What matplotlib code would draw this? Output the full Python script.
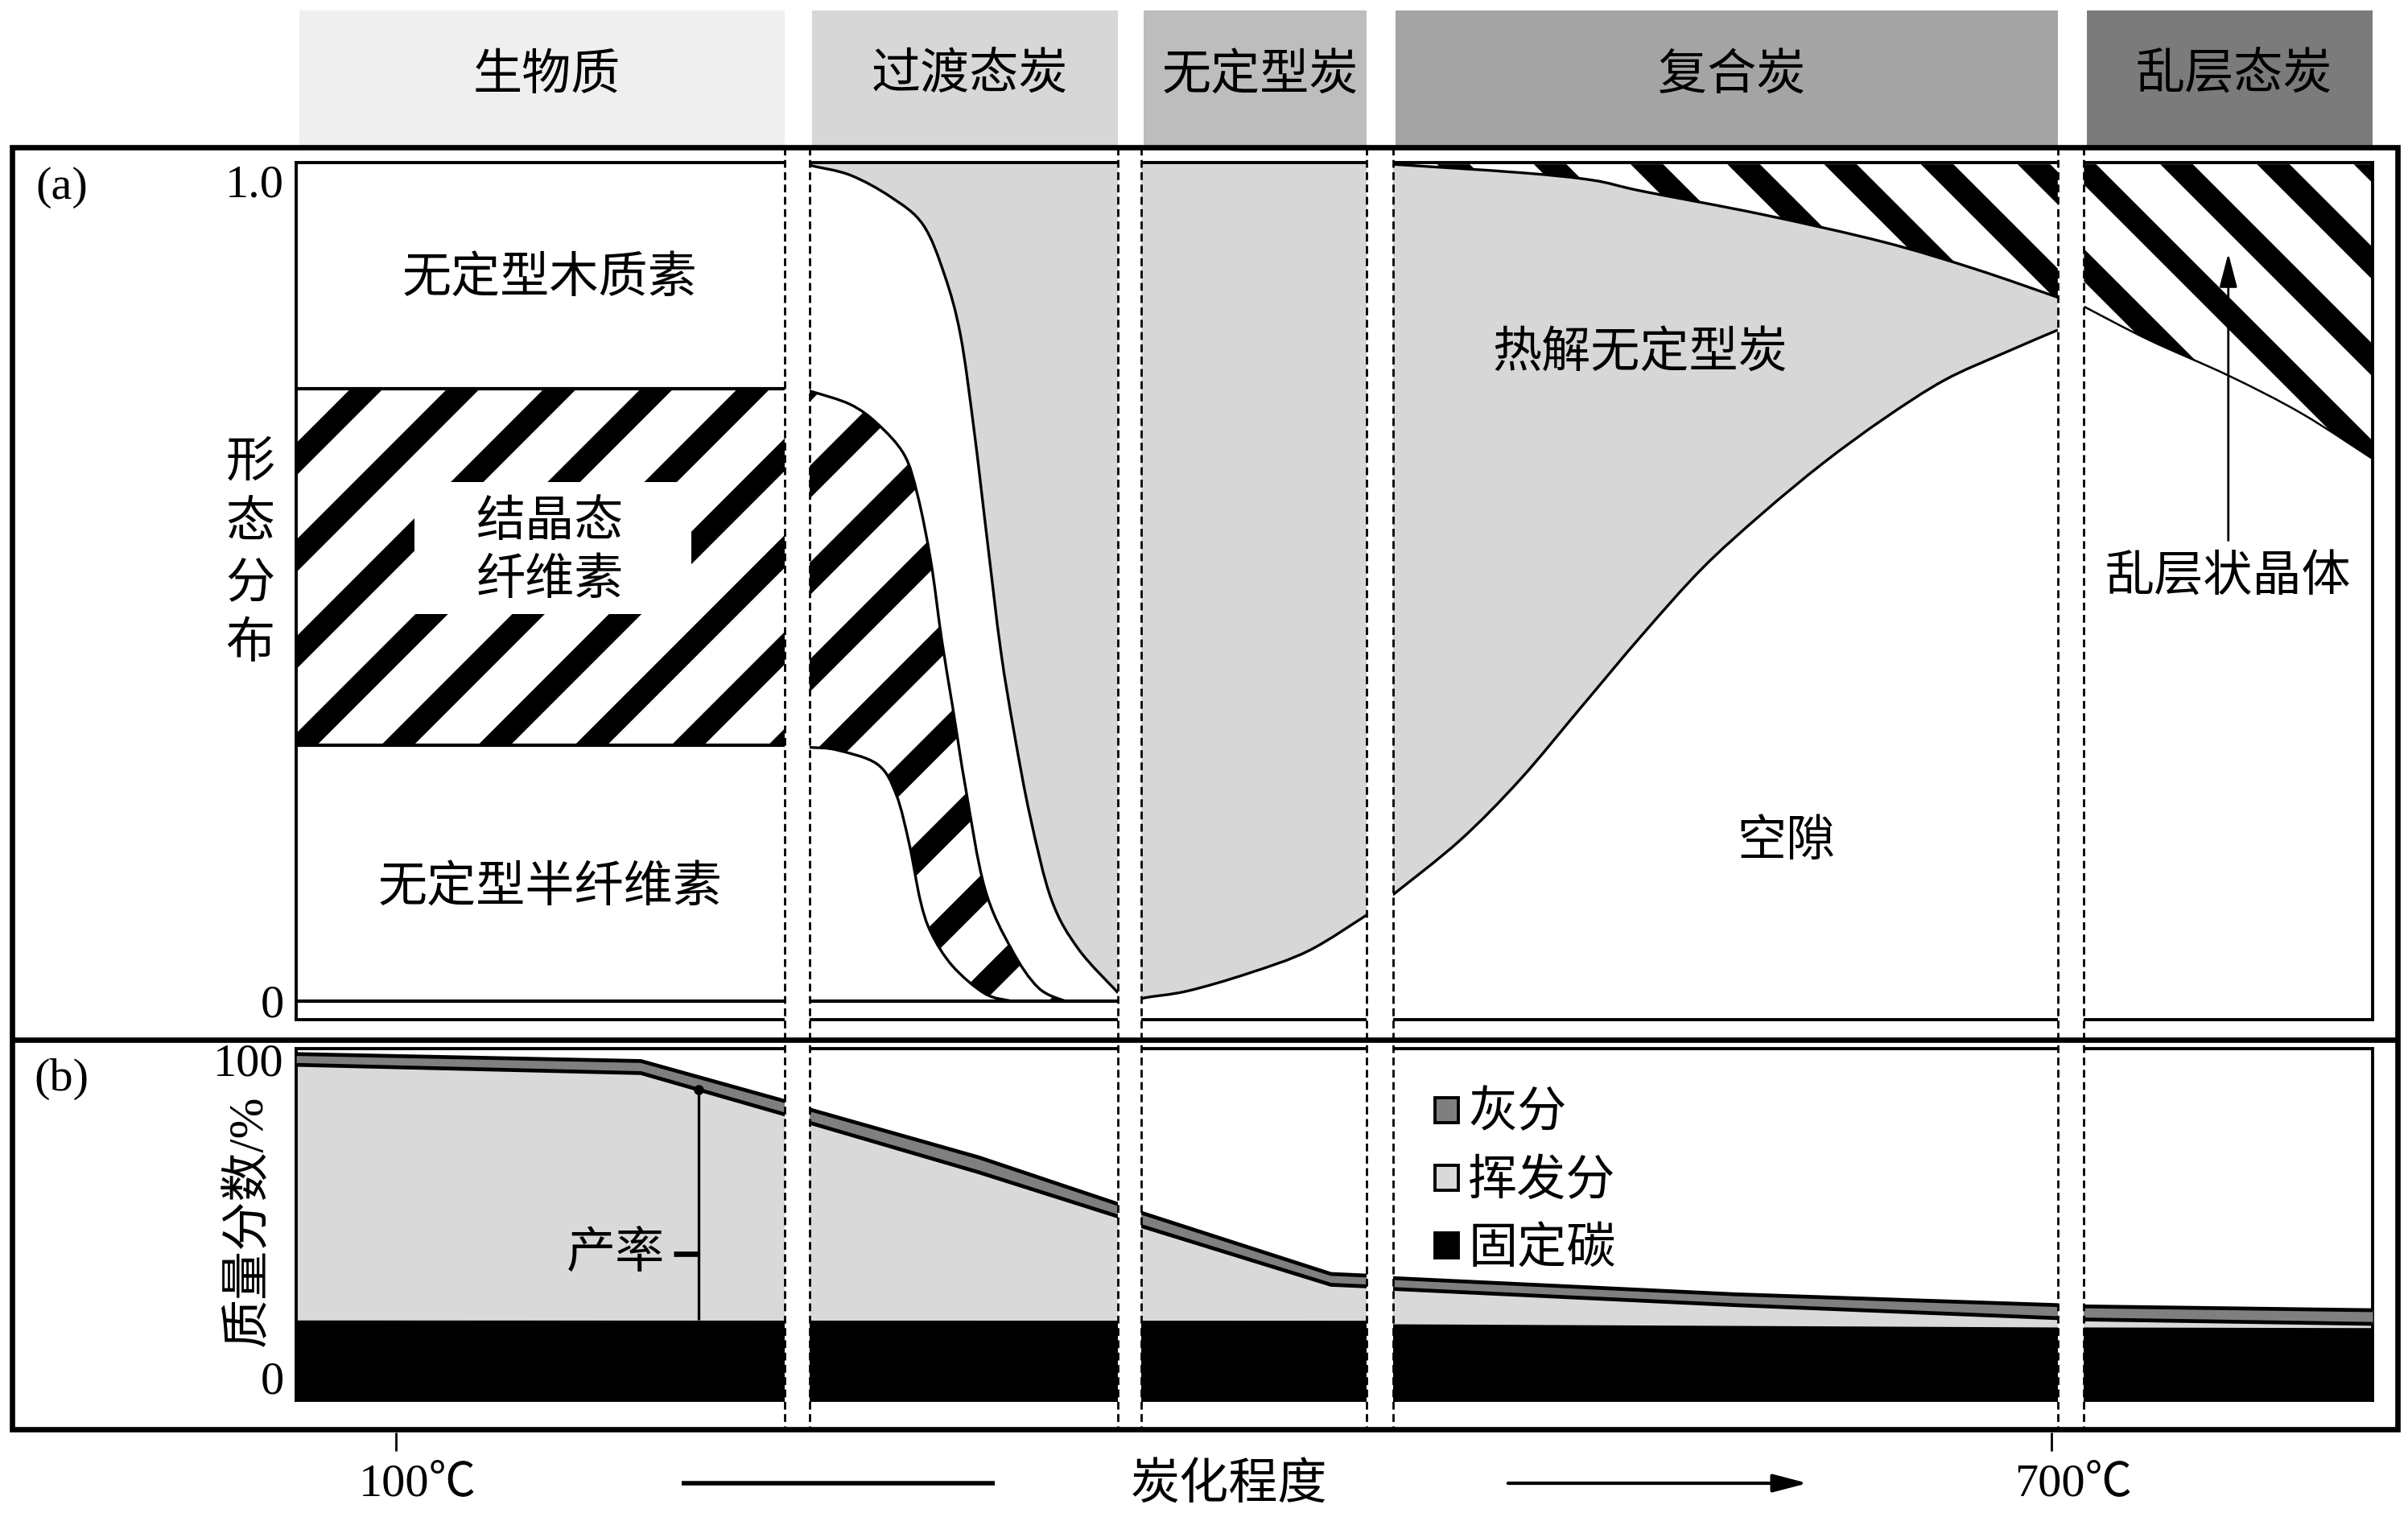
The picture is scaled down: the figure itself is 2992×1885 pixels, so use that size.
import numpy as np
import matplotlib
matplotlib.use('Agg')
import matplotlib.pyplot as plt
from matplotlib.patches import Rectangle, PathPatch
from matplotlib.path import Path
from matplotlib.collections import LineCollection
from matplotlib.transforms import IdentityTransform

CJK = ['Noto Sans CJK SC', 'DejaVu Sans']
SERIF = ['Liberation Serif', 'Noto Sans CJK SC', 'DejaVu Sans']
plt.rcParams['font.family'] = CJK

# ------------------------------------------------------------------ data
stage_names = ['生物质', '过渡态炭', '无定型炭', '复合炭', '乱层态炭']
stage_colors = ['#efefef', '#d7d7d7', '#bdbdbd', '#a4a4a4', '#7b7b7b']
stage_start = [63.8, 249.7, 369.9, 461.2, 711.7]      # carbonization axis (℃)
stage_end = [240.8, 361.6, 451.8, 702.2, 816.3]

tick_temps = [100, 700]
tick_labels = ['100℃', '700℃']

# (a) morphology distribution (fraction 0..1)
bio_hemi_top = 0.306          # amorphous hemicellulose upper bound
bio_cell_top = 0.732          # crystalline cellulose upper bound

tr_pyro_T = [249.7, 251.0, 264.6, 279.2, 290.9, 298.7, 304.5, 309.4, 314.2,
             319.1, 324.0, 329.8, 337.5, 347.3, 361.6]
tr_pyro_f = [1.0, 0.998, 0.987, 0.961, 0.928, 0.868, 0.796, 0.683, 0.551,
             0.419, 0.320, 0.220, 0.121, 0.062, 0.010]
tr_cell_T = [249.7, 251.0, 264.6, 274.4, 284.1, 289.0, 293.8, 297.7, 301.6,
             306.4, 313.3, 323.0, 332.7, 342.4]
tr_cell_f = [0.728, 0.728, 0.713, 0.690, 0.653, 0.604, 0.525, 0.432, 0.353,
             0.254, 0.135, 0.062, 0.016, 0.0]
tr_hemi_T = [249.7, 251.0, 259.8, 274.4, 281.2, 286.0, 289.9, 293.8, 301.6,
             313.3, 323.0]
tr_hemi_f = [0.303, 0.303, 0.300, 0.283, 0.247, 0.187, 0.121, 0.082, 0.042,
             0.009, 0.0]

am_T = [369.9, 371.4, 386.7, 408.7, 430.6, 451.8]
am_f = [0.0, 0.004, 0.012, 0.033, 0.060, 0.103]

comp_low_T = [461.2, 485.5, 507.4, 529.4, 551.4, 573.3, 595.2, 617.2, 639.2,
              661.1, 683.1, 702.2]
comp_low_f = [0.127, 0.192, 0.265, 0.351, 0.437, 0.517, 0.583, 0.643, 0.696,
              0.742, 0.775, 0.802]
comp_up_T = [461.2, 507.4, 533.6, 551.4, 595.2, 639.2, 672.1, 702.2]
comp_up_f = [1.0, 0.990, 0.981, 0.968, 0.940, 0.907, 0.875, 0.841]

turb_T = [711.7, 735.3, 764.4, 790.7, 816.3]
turb_f = [0.830, 0.790, 0.747, 0.702, 0.648]

# (b) mass fraction (%)
ash_T = [63.8, 188.7, 240.8, 249.7, 311.1, 361.6, 369.9, 438.8, 451.8,
         461.2, 585.3, 702.2, 711.7, 816.3]
ash_top = [101.7, 99.5, 86.9, 84.3, 69.2, 54.5, 51.8, 32.5, 32.0,
           31.2, 26.1, 22.7, 22.3, 21.1]
ash_bottom = [98.3, 95.7, 82.7, 80.1, 64.5, 50.6, 47.6, 29.1, 28.6,
              27.8, 22.7, 18.6, 18.2, 16.8]
fc_T = [63.8, 451.8, 461.2, 702.2, 711.7, 816.3]
fc_top = [18.0, 17.9, 16.8, 15.8, 15.8, 15.6]

yield_T = 209.6
yield_label_pct = 38.8

legend_labels = ['灰分', '挥发分', '固定碳']
legend_colors = ['#7f7f7f', '#d9d9d9', '#000000']

# ------------------------------------------------------------------ layout
DPI = 200
fig = plt.figure(figsize=(2992 / DPI, 1885 / DPI), dpi=DPI, facecolor='white')
RW, RH = 1568.0, 988.0                    # layout grid
PT = 72.0 / DPI * (2992 / 1568)           # points per layout unit
FS = 22
FSN = 21

def fx(px):
    return px / RW

def fy(row):
    return 1 - row / RH

X100, PXC = 258.0, (1336.0 - 258.0) / 600.0

def px_of(t):
    return X100 + (t - 100) * PXC

def t_of(px):
    return 100 + (px - X100) / PXC

L, R = px_of(stage_start[0]), px_of(stage_end[-1])

def frac_a(row):
    return (652 - row) / 545.0

def pct_b(row):
    return 100 - (row - 690) / 2.07

ax_a = fig.add_axes([fx(L), fy(664), fx(R) - fx(L), fy(106) - fy(664)])
ax_a.set_xlim(stage_start[0], stage_end[-1])
ax_a.set_ylim(frac_a(664), frac_a(106))

ax_b = fig.add_axes([fx(L), fy(912), fx(R) - fx(L), fy(683) - fy(912)])
ax_b.set_xlim(stage_start[0], stage_end[-1])
ax_b.set_ylim(pct_b(912), pct_b(683))

for ax in (ax_a, ax_b):
    ax.set_xticks([])
    for s in ax.spines.values():
        s.set_linewidth(1.4)
    ax.tick_params(axis='y', length=0, pad=8 * PT)

ax_a.set_yticks([0, 1.0])
ax_a.set_yticklabels(['0', '1.0'], fontsize=FSN, family=SERIF)
ax_a.get_yticklabels()[1].set_va('top')
ax_b.set_yticks([0, 100])
ax_b.set_yticklabels(['0', '100'], fontsize=FSN, family=SERIF)


# ---------- smooth curve helpers (Bezier through the read points)
def bez(xs, ys):
    P = np.column_stack([xs, ys]).astype(float)
    n = len(P)
    verts = [P[0]]
    codes = [Path.MOVETO]
    for i in range(n - 1):
        p0 = P[i - 1] if i > 0 else P[i]
        p1, p2 = P[i], P[i + 1]
        p3 = P[i + 2] if i + 2 < n else P[i + 1]
        verts += [p1 + (p2 - p0) / 6.0, p2 - (p3 - p1) / 6.0, p2]
        codes += [Path.CURVE4] * 3
    return verts, codes


def build_path(parts, close=True):
    verts, codes = [], []
    for k, (xs, ys, smooth) in enumerate(parts):
        if smooth:
            v, c = bez(xs, ys)
        else:
            v = [np.array([x, y], float) for x, y in zip(xs, ys)]
            c = [Path.MOVETO] + [Path.LINETO] * (len(v) - 1)
        if k > 0:
            c[0] = Path.LINETO
        verts += v
        codes += c
    if close:
        verts.append(verts[0])
        codes.append(Path.CLOSEPOLY)
    return Path(np.array(verts), codes)


def curve(ax, xs, ys, lw=1.2):
    ax.add_patch(PathPatch(build_path([(xs, ys, True)], close=False),
                           fill=False, ec='k', lw=lw, zorder=5))


def region(ax, parts, color, z=1):
    p = PathPatch(build_path(parts), fc=color, ec='none', lw=0, zorder=z)
    ax.add_patch(p)
    return p


def striped(ax, parts, direction, z=2):
    poly = region(ax, parts, 'white', z)
    disp = ax.transData.transform(poly.get_path().vertices)
    x0, y0 = disp.min(0) - 60
    x1, y1 = disp.max(0) + 60
    period = 63 * 2992 / 1568
    segs = []
    if direction == '/':
        for c in np.arange(y0 - x1, y1 - x0 + period, period):
            segs.append([(x0, x0 + c), (x1, x1 + c)])
    else:
        for c in np.arange(x0 + y0, x1 + y1 + period, period):
            segs.append([(x0, c - x0), (x1, c - x1)])
    lc = LineCollection(segs, colors='black', linewidths=15.0 * PT,
                        transform=IdentityTransform(), zorder=z + 0.1)
    lc.set_clip_path(poly)
    ax.add_collection(lc, autolim=False)

GRAY = '#d7d7d7'

# stage 1 : biomass
s0, e0 = stage_start[0], stage_end[0]
striped(ax_a, [([s0, e0, e0, s0], [bio_hemi_top, bio_hemi_top, bio_cell_top, bio_cell_top], False)], '/')
ax_a.hlines([bio_hemi_top, bio_cell_top], s0, e0, color='k', lw=1.5, zorder=5)
ax_a.add_patch(Rectangle((t_of(270), frac_a(400)), t_of(450) - t_of(270),
                         frac_a(314) - frac_a(400), fc='white', ec='none', zorder=3))
ax_a.hlines(0, stage_start[0], stage_end[1], color='k', lw=1.5, zorder=5)

# stage 2 : transition
s1, e1 = stage_start[1], stage_end[1]
region(ax_a, [(tr_pyro_T, tr_pyro_f, True), ([e1, s1], [1.0, 1.0], False)], GRAY)
striped(ax_a, [(tr_cell_T, tr_cell_f, True), (tr_hemi_T[::-1], tr_hemi_f[::-1], True)], '/')
curve(ax_a, tr_pyro_T, tr_pyro_f)
curve(ax_a, tr_cell_T, tr_cell_f)
curve(ax_a, tr_hemi_T, tr_hemi_f)

# stage 3 : amorphous
s2, e2 = stage_start[2], stage_end[2]
region(ax_a, [(am_T, am_f, True), ([e2, s2], [1.0, 1.0], False)], GRAY)
curve(ax_a, am_T, am_f)

# stage 4 : composite
s3, e3 = stage_start[3], stage_end[3]
region(ax_a, [(comp_low_T, comp_low_f, True), (comp_up_T[::-1], comp_up_f[::-1], True)], GRAY)
striped(ax_a, [(comp_up_T, comp_up_f, True), ([e3, s3], [1.0, 1.0], False)], '\\')
curve(ax_a, comp_low_T, comp_low_f)
curve(ax_a, comp_up_T, comp_up_f)

# stage 5 : turbostratic
s4, e4 = stage_start[4], stage_end[4]
striped(ax_a, [(turb_T, turb_f, True), ([e4, s4], [1.0, 1.0], False)], '\\')
curve(ax_a, turb_T, turb_f, lw=0.9)

# labels in (a)
lab_kw = dict(ha='center', va='center', fontsize=FS, zorder=6)
ax_a.text(t_of(358), frac_a(181), '无定型木质素', **lab_kw)
ax_a.text(t_of(358), frac_a(340), '结晶态', **lab_kw)
ax_a.text(t_of(358), frac_a(378), '纤维素', **lab_kw)
ax_a.text(t_of(358), frac_a(578), '无定型半纤维素', **lab_kw)
ax_a.text(t_of(1068), frac_a(230), '热解无定型炭', **lab_kw)
ax_a.text(t_of(1163), frac_a(548), '空隙', **lab_kw)
ax_a.text(t_of(1451), frac_a(376), '乱层状晶体', **lab_kw)
ax_a.annotate('', xy=(t_of(1451), frac_a(165)), xytext=(t_of(1451), frac_a(352)),
              arrowprops=dict(arrowstyle='-|>,head_length=0.65,head_width=0.17',
                              mutation_scale=20, lw=1.0, color='k',
                              shrinkA=0, shrinkB=0), zorder=6)

# ------------------------------------------------------------------ (b)
ylo_b = ax_b.get_ylim()[0]
ax_b.fill_between(ash_T, ylo_b, ash_bottom, color='#d9d9d9', lw=0, zorder=1)
ax_b.fill_between(fc_T, ylo_b, fc_top, color='black', lw=0, zorder=2)
ax_b.fill_between(ash_T, ash_bottom, ash_top, color='#7f7f7f', lw=0, zorder=3)
ax_b.plot(ash_T, ash_top, color='k', lw=1.7, zorder=4)
ax_b.plot(ash_T, ash_bottom, color='k', lw=1.7, zorder=4)

y_top = np.interp(yield_T, ash_T, ash_bottom)
y_bot = np.interp(yield_T, fc_T, fc_top)
ax_b.vlines(yield_T, y_bot, y_top, color='k', lw=1.2, zorder=5)
ax_b.plot([yield_T], [y_top], 'o', color='k', ms=3.5, zorder=5)
ax_b.hlines(yield_label_pct, t_of(438.5), yield_T, color='k', lw=2.4, zorder=5)
ax_b.text(t_of(433), yield_label_pct, '产率', ha='right', va='center', fontsize=FS, zorder=5)

for i, (lab, col) in enumerate(zip(legend_labels, legend_colors)):
    row = 723 + 44 * i
    ax_b.add_patch(Rectangle((t_of(934.5), pct_b(row + 8)), t_of(949.5) - t_of(934.5),
                             pct_b(row - 8) - pct_b(row + 8), fc=col, ec='k', lw=1.4, zorder=6))
    ax_b.text(t_of(956), pct_b(row + 2), lab, ha='left', va='center', fontsize=FS, zorder=6)

# ------------------------------------------------------------------ overlay
ax_o = fig.add_axes([0, 0, 1, 1], zorder=10)
ax_o.set_xlim(0, RW)
ax_o.set_ylim(RH, 0)
ax_o.axis('off')

for name, col, s, e in zip(stage_names, stage_colors, stage_start, stage_end):
    x0, x1 = px_of(s), px_of(e)
    ax_o.add_patch(Rectangle((x0 + 2, 7), x1 - x0 - 2, 88, fc=col, ec='none', zorder=1))
    ax_o.text((x0 + x1) / 2 + 4, 49, name, ha='center', va='center', fontsize=FS, zorder=2)

for i in range(len(stage_start) - 1):
    g0, g1 = px_of(stage_end[i]), px_of(stage_start[i + 1])
    ax_o.add_patch(Rectangle((g0, 96), g1 - g0, 835, fc='white', ec='none', zorder=1))
    ax_o.vlines([g0, g1], 96, 931, color='k', lw=1.0, linestyles=(0, (3.5, 2)), zorder=3)

ax_o.add_patch(Rectangle((8, 96), 1553, 835, fill=False, ec='k', lw=2.4, zorder=5))
ax_o.hlines(677, 8, 1561, color='k', lw=2.4, zorder=5)

ax_o.text(40, 122, '(a)', ha='center', va='center', fontsize=FSN, family=SERIF)
ax_o.text(40, 703, '(b)', ha='center', va='center', fontsize=FSN, family=SERIF)
for ch, row in zip('形态分布', [301, 341, 380, 419]):
    ax_o.text(163, row, ch, ha='center', va='center', fontsize=FS)
ax_o.text(162, 795, '质量分数/%', ha='center', va='center', rotation=90,
          fontsize=FS, family=SERIF)

# bottom carbonization axis
for t, lab in zip(tick_temps, tick_labels):
    ax_o.vlines(px_of(t), 933, 945, color='k', lw=1.0)
    ax_o.text(px_of(t) + 14, 967, lab, ha='center', va='center', fontsize=FSN, family=SERIF)
ax_o.hlines(966, 444, 648, color='k', lw=2.0)
ax_o.text(800, 967, '炭化程度', ha='center', va='center', fontsize=FS)
ax_o.annotate('', xy=(1177, 966), xytext=(982, 966),
              arrowprops=dict(arrowstyle='-|>,head_length=0.65,head_width=0.17',
                              mutation_scale=20, lw=1.5, color='k',
                              shrinkA=0, shrinkB=0))

fig.savefig('out.png', dpi=DPI, facecolor='white')
